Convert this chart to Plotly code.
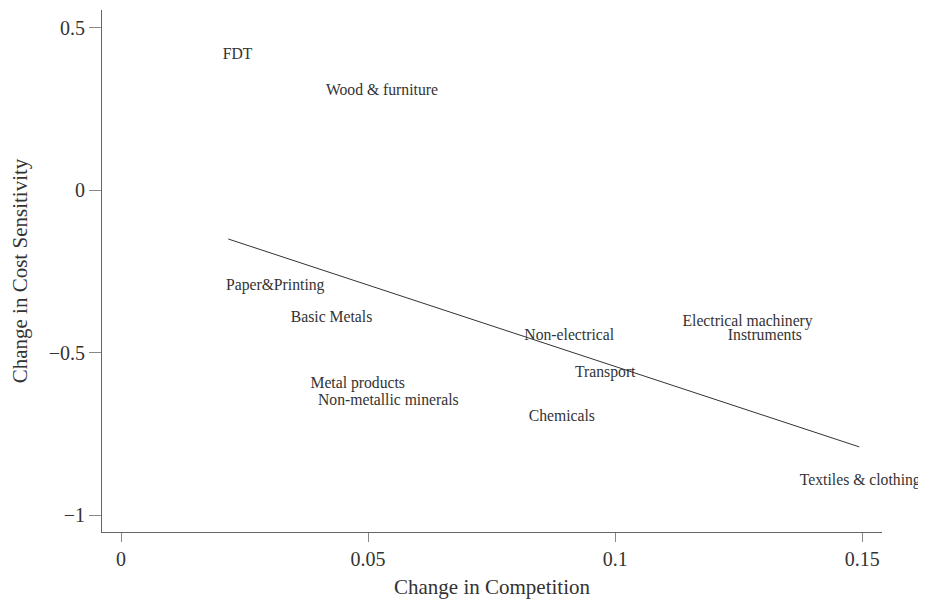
import plotly.graph_objects as go

industries = ["FDT", "Wood & furniture", "Paper&Printing", "Basic Metals",
              "Metal products", "Non-metallic minerals", "Non-electrical",
              "Electrical machinery", "Instruments", "Transport", "Chemicals",
              "Textiles & clothing"]
competition_change = [0.0236, 0.0528, 0.0312, 0.0426, 0.0479, 0.0541, 0.0907,
                      0.1268, 0.1303, 0.0980, 0.0892, 0.1496]
cost_sens_change = [0.417, 0.306, -0.295, -0.393, -0.596, -0.649, -0.449,
                    -0.407, -0.449, -0.562, -0.698, -0.895]

fit_x = [0.0217, 0.1494]
fit_y = [-0.150, -0.790]

x_ticks = [0, 0.05, 0.1, 0.15]
x_tick_labels = ["0", "0.05", "0.1", "0.15"]
y_ticks = [-1, -0.5, 0, 0.5]
y_tick_labels = ["\u22121", "\u22120.5", "0", "0.5"]

FONT = "Liberation Serif"

fig = go.Figure()
fig.add_trace(go.Scatter(x=fit_x, y=fit_y, mode="lines",
                         line=dict(color="#333333", width=1), hoverinfo="skip",
                         showlegend=False))
fig.add_trace(go.Scatter(x=competition_change, y=cost_sens_change, mode="text",
                         text=industries, textposition="middle center",
                         textfont=dict(family=FONT, size=15.7, color="#333333"),
                         cliponaxis=False, showlegend=False))

# page body adds an 8px margin; figure is sized to fill the rest of the window
fig.update_layout(
    width=918, height=591,
    margin=dict(l=94, r=44, t=2, b=67, autoexpand=False),
    paper_bgcolor="white", plot_bgcolor="white",
    font=dict(family=FONT, color="#333333"),
    xaxis=dict(range=[-0.00385, 0.154], showgrid=False, zeroline=False,
               showline=True, linecolor="#666666", linewidth=1,
               ticks="outside", ticklen=9, tickcolor="#888888",
               tickvals=x_ticks, ticktext=x_tick_labels, automargin=False,
               tickfont=dict(family=FONT, size=20, color="#333333"),
               title=dict(text="Change in Competition", standoff=20,
                          font=dict(family=FONT, size=21, color="#333333"))),
    yaxis=dict(range=[-1.052, 0.555], showgrid=False, zeroline=False,
               showline=True, linecolor="#666666", linewidth=1,
               ticks="outside", ticklen=12, tickcolor="#888888",
               tickvals=y_ticks, ticktext=y_tick_labels, automargin=False,
               tickfont=dict(family=FONT, size=20, color="#333333"),
               title=dict(text="Change in Cost Sensitivity", standoff=18,
                          font=dict(family=FONT, size=21, color="#333333"))),
)

fig.write_html("out.html")
